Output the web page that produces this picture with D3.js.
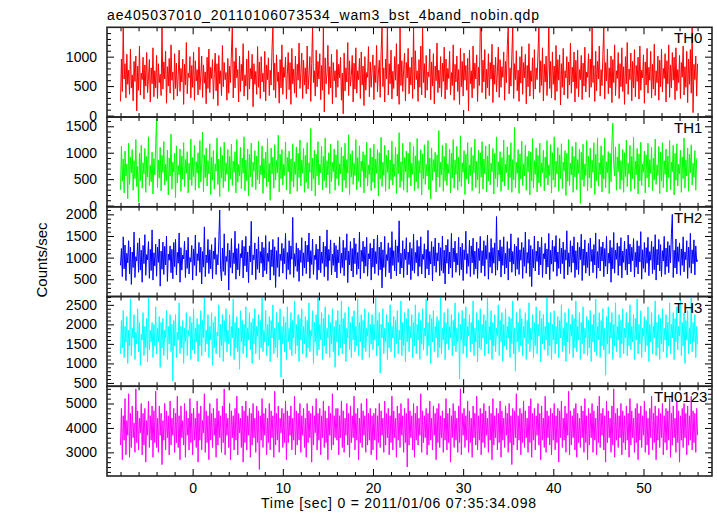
<!DOCTYPE html>
<html><head><meta charset="utf-8">
<script src="https://cdn.jsdelivr.net/npm/d3@7"></script>
<style>
body{margin:0;background:#fff;}
text{font-family:"Liberation Sans",Arial,Helvetica,sans-serif;fill:#000;}
</style>
</head><body>
<svg id="chart" width="717" height="516"></svg>
<script>
const titleText = "ae405037010_20110106073534_wam3_bst_4band_nobin.qdp";
const xLabelText = "Time [sec] 0 = 2011/01/06 07:35:34.098";
const yLabelText = "Counts/sec";
const bandNames = ["TH0", "TH1", "TH2", "TH3", "TH0123"];
const bandColors = ["#ff0000", "#00ff00", "#0000ff", "#00ffff", "#ff00ff"];
const timeStart = -8, timeEnd = 56;
const xTickValues = [0, 10, 20, 30, 40, 50];
const xDomain = [-9.5, 57.6];
const yDomains = [[-25, 1498], [-23, 1675], [100, 2175], [415, 2713], [2033, 5706]];
const yMajorStep = [500, 500, 500, 500, 1000];
const yMinorStep = [100, 100, 100, 100, 200];

const th0 = [
240,960,410,1500,620,880,300,1040,530,770,360,1130,470,690,250,920,580,1010,80,840,430,1180,350,720,610,990,280,860,500,1070,390,640,950,230,810,540,1150,320,760,470,
1020,290,880,560,700,340,1500,450,910,620,1090,210,830,500,970,380,1200,600,740,270,1050,460,890,330,680,1110,410,800,570,960,190,870,520,1240,370,720,640,1000,300,850,
480,1080,260,930,590,780,350,1160,440,670,1010,310,860,550,740,200,990,460,1130,390,820,630,950,280,710,1060,420,880,170,1020,540,760,340,1190,490,900,610,730,260,970,
380,840,560,1080,1500,300,920,470,1150,640,780,230,1010,410,870,590,1220,330,690,500,960,270,1100,450,800,620,1040,150,880,530,750,360,1170,480,910,290,1000,570,720,400,
1090,250,860,610,980,340,770,520,1130,1500,430,890,300,1030,580,740,210,950,470,1200,360,820,650,990,280,700,1070,440,900,190,1140,540,790,380,1010,310,870,600,1230,460,
730,1060,290,940,520,810,370,1180,450,690,1000,240,880,1500,560,760,330,1110,490,920,620,1050,270,850,430,1500,60,980,540,710,1190,360,830,470,1040,200,900,590,760,310,
1120,480,870,640,990,260,720,30,1060,420,810,570,1240,340,930,500,680,1020,230,890,450,1150,380,760,610,970,290,1080,520,840,170,1000,430,730,650,1170,320,910,480,790,
1030,270,850,560,1190,400,720,940,310,1070,1500,490,810,230,960,620,1500,350,880,540,1110,280,750,460,1000,600,1220,330,870,190,1500,510,930,410,780,1060,250,900,640,1140,
370,820,520,990,290,1500,450,1100,610,760,240,950,480,1180,350,1500,560,880,300,1020,430,740,660,1130,270,910,500,1050,200,840,590,1230,390,770,470,1000,320,890,580,1160,
280,960,440,800,630,1090,350,730,510,1200,260,870,570,1010,410,780,190,1140,490,920,330,1060,600,850,430,970,80,1110,540,760,300,1180,460,890,620,1030,240,820,510,1500,
1500,390,940,570,1120,280,790,470,1050,340,900,620,1210,220,860,530,990,400,740,1160,310,950,480,830,650,1080,260,920,560,1190,1500,370,810,500,1030,1500,290,880,610,1100,
420,770,240,1000,550,1170,360,900,640,1040,200,850,490,1220,330,760,580,980,280,1120,450,810,610,1060,1500,390,930,510,1150,250,870,570,1010,340,790,1500,460,920,300,1080,
530,840,260,1190,410,950,600,1030,180,880,480,1140,350,760,640,1000,290,910,520,1230,380,820,570,1080,230,940,460,1110,320,780,610,1020,270,890,500,1160,400,740,650,1050,
310,960,480,1500,560,850,240,1090,420,920,620,1180,330,780,510,1040,1500,280,900,590,1130,370,810,470,1010,220,950,560,1200,340,760,630,1070,290,880,490,1150,410,830,190,
1000,540,1240,360,790,610,1060,250,920,470,1120,320,850,580,990,280,1180,430,770,640,1030,210,910,520,1140,380,820,600,1090,300,870,450,1210,340,760,560,1010,260,940,490,
1130,400,800,630,1050,230,930,540,1200,310,860,470,1070,600,990,270,1150,420,780,560,1020,290,900,650,1180,350,830,480,1090,220,960,530,1120,380,1500,50,870,610,1010,330,
880];

const th1 = [
300,1120,460,880,240,1030,560,790,130,1180,400,920,620,1060,290,850,510,1250,360,740,70,990,470,1140,330,810,600,1080,250,930,540,1300,380,760,450,1010,220,890,580,1170,
1640,340,860,520,1100,280,950,630,1210,390,780,470,1050,200,900,560,1350,310,820,640,990,150,1130,430,760,580,1070,270,940,500,1190,360,870,610,1020,240,800,490,1260,380,
910,550,1140,290,830,620,1000,330,1230,450,770,1390,260,960,530,1090,370,850,600,1170,210,920,480,1040,310,790,650,1280,400,880,170,1110,520,950,340,1200,460,810,590,1060,
270,930,500,1160,380,840,630,1020,240,1250,440,780,560,1100,320,900,610,1300,280,860,470,1070,190,970,540,1180,350,820,650,1040,300,940,490,1220,410,760,580,1130,230,890,
520,1010,360,1270,450,800,100,1090,600,920,330,1150,480,850,620,1330,260,970,510,1060,390,780,570,1200,300,910,640,1030,220,880,460,1170,350,830,590,1110,270,990,530,1240,
370,860,610,1080,250,950,440,1190,320,810,630,1460,280,900,500,1050,180,970,560,1210,390,780,620,1120,300,930,470,1280,340,850,580,1000,230,1160,450,820,640,1070,290,960,
510,1230,380,790,600,1100,260,940,480,1180,330,870,620,1340,210,980,540,1040,400,800,570,1250,300,910,460,1130,350,840,650,1020,240,960,520,1200,370,770,590,1090,280,920,
440,1160,330,880,610,1060,180,1000,500,1290,360,820,570,1140,270,950,630,1050,310,860,480,1220,390,790,550,1100,230,970,600,1380,340,830,460,1180,290,910,640,1030,250,990,
530,1200,370,800,590,1120,280,940,450,1270,320,850,620,1060,200,980,510,1150,400,780,560,1230,300,900,130,1090,480,870,640,1010,260,960,540,1420,350,820,580,1140,270,930,
470,1180,380,790,610,1070,240,990,520,1250,330,860,590,1120,290,920,450,1320,360,810,630,1040,210,970,500,1190,410,770,570,1100,280,950,620,1260,340,840,490,1050,230,1000,
540,1210,310,880,600,1130,260,940,470,1160,390,800,640,1080,220,990,510,1300,350,830,580,1020,270,910,450,1240,370,780,620,1110,300,960,530,1190,250,870,490,1480,340,820,
610,1060,230,980,500,1220,380,790,560,1140,290,930,640,1030,200,1010,470,1270,330,850,590,1090,260,950,430,1180,360,810,620,1050,280,920,520,1230,390,770,570,1150,240,1000,
480,1300,350,840,600,1100,270,960,510,1170,320,820,650,1040,190,990,460,1250,380,800,580,1120,250,930,540,1200,300,870,610,1070,40,1010,490,1160,360,790,570,1230,280,940,
520,1090,330,860,630,1190,210,970,470,1280,370,810,590,1130,260,950,500,1280,340,830,620,1020,230,990,450,1210,1560,780,560,1110,290,920,640,1170,310,850,480,1060,250,1000,
550,1240,360,800,600,1140,270,930,510,1290,320,840,580,1080,220,980,470,1200,380,790,630,1030,240,960,520,1180,350,870,610,1100,280,900,490,1260,400,770,570,1120,230,1010,
460,1190,340,850,590,1070,260,940,530,1230,300,820,640,1140,200,990,480,1170,370,780,600,1050,250,920,510,1280,330,860,560,1090,270,970,620,1150,390,800,540,1040,290,880,
900];

const th2 = [
820,1210,560,1480,740,1290,470,1100,880,1390,620,1240,380,1130,770,1590,540,1020,920,1340,660,1450,710,1170,430,1280,860,1530,590,1070,950,1370,520,1190,700,1640,480,1110,810,1310,
570,1240,890,1430,340,1150,730,1360,610,1260,830,1500,450,1080,940,1270,650,1190,510,1350,790,1420,600,1120,870,1570,430,1230,710,1060,970,1380,540,1170,750,1470,620,1000,900,1280,
480,1200,820,1520,580,1090,930,1350,660,1240,390,1140,780,1710,560,1060,880,1420,630,1180,740,1300,510,1150,960,1460,610,1070,830,1390,2100,720,460,1220,680,1550,590,1030,910,1330,
250,1170,770,1440,640,1110,860,1610,500,1210,720,1320,580,1090,990,1400,530,1260,810,1490,670,1130,420,1270,900,1840,600,1060,950,1340,490,1200,730,1480,650,1140,870,1360,550,1230,
700,1510,620,1100,910,1370,480,1180,790,1420,590,1250,310,1160,770,1470,560,1080,930,1330,640,1210,860,1560,500,1120,720,1390,610,1270,960,1930,540,1090,800,1340,680,1220,450,1170,
890,1460,580,1110,760,1380,630,1290,900,1570,520,1160,840,1430,610,1050,950,1310,490,1200,710,1500,650,1130,870,1360,560,1260,790,1640,470,1190,930,1410,600,1080,820,1340,670,1280,
530,1180,880,1480,640,1100,770,1400,580,1230,940,1550,420,1150,830,1370,690,1210,550,1450,860,1320,610,1120,740,1590,510,1170,910,1380,640,1250,800,1470,570,1090,970,1330,480,1220,
780,1430,630,1140,860,1520,590,1240,720,1360,300,1180,770,1490,560,1070,930,1340,650,1230,510,1600,820,1160,690,1410,580,1270,890,1850,620,1100,760,1390,540,1200,950,1460,600,1130,
840,1350,490,1210,700,1540,640,1120,880,1400,570,1260,790,1480,620,1080,960,1320,530,1190,740,1630,600,1140,850,1370,460,1250,810,1450,660,1110,920,1340,580,1230,700,1500,640,1170,
390,1290,870,1420,620,1130,760,1560,540,1220,900,1380,660,1100,830,1470,590,1240,720,1330,470,1180,950,1610,630,1090,800,1400,560,1270,880,1450,610,1150,740,1360,520,1210,930,1490,
650,1160,810,1390,570,1280,960,1520,500,1120,780,1440,640,1230,870,1340,590,1950,710,1170,920,1410,550,1250,820,1480,620,1100,760,1370,480,1210,900,1550,660,1140,850,1310,580,1260,
730,1460,610,1180,940,1350,520,1230,800,1590,640,1120,870,1420,560,1280,330,1190,760,1500,690,1150,910,1380,600,1240,830,1470,540,1090,970,1330,620,1200,780,1560,490,1170,850,1400,
680,1260,900,1510,570,1130,750,1440,630,1220,860,1360,510,1180,940,1620,600,1110,790,1390,660,1270,880,1480,540,1160,720,1350,610,1240,950,1540,470,1200,820,1410,640,1130,770,1330,
580,1450,910,1190,650,1300,830,1570,520,1140,760,1420,690,1250,920,1360,560,1210,800,1490,620,1100,870,1400,430,1230,740,1580,640,1170,960,1340,590,1260,810,1460,530,1150,890,1380,
710,1200,600,1520,850,1310,670,1240,930,1440,550,1120,780,1390,620,1270,900,1600,500,1180,750,1350,660,1230,870,1470,580,1140,940,1380,630,1250,720,1530,480,1190,830,1420,690,1300,
560,1160,920,1490,610,1220,790,1370,650,1280,880,1550,2000,540,1170,760,1430,620,1250,910,1340,590,1200,820,1480,670,1130,950,1390,520,1240,770,1560,640,1180,860,1410,600,1270,900,
950];

const th3 = [
1250,2100,1400,2350,1150,1950,1550,2200,1000,1850,1450,2650,1200,1900,1650,2250,1100,1800,1500,2400,1300,2050,950,1750,1600,2300,1200,1950,1400,2150,1050,2700,1350,1850,1550,2050,1150,2000,1450,2450,
1250,1900,1550,2200,900,2050,1400,2150,1200,1850,1650,2350,1100,1950,1500,2250,1300,2000,550,2100,1450,2250,1150,1800,1600,2550,1250,1950,1400,2100,1000,1900,1550,2300,1200,1850,1700,2200,1100,2050,
1350,2400,1250,1900,1550,2150,1050,2000,1450,2350,1200,2100,1650,2700,1300,1850,1500,2250,1150,1950,1600,2300,950,2050,1400,2200,1250,1800,1700,2500,1150,2000,1450,2250,1050,2100,1550,2400,1300,1850,
1500,2250,1200,1950,1650,2650,1100,2050,1400,2200,1300,1900,850,2350,1550,2100,1250,2000,1450,2450,1150,1900,1600,2300,1350,2050,1000,2150,1500,2400,1250,1950,1700,2250,1100,2100,1400,2700,1300,1850,
1550,2350,1200,2000,1450,2200,1050,2100,1650,2500,1250,1900,1400,2300,1150,2050,1600,2400,650,1950,1500,2200,1300,2050,1100,2450,1550,1900,1350,2300,1200,2100,1650,2600,1250,2000,1450,2250,1050,2150,
1600,2400,1250,1950,1500,2200,1150,2100,1400,2550,1300,1850,1700,2350,1000,2050,1550,2250,1200,2700,1350,2000,1600,2300,1100,2150,1450,2450,1250,1900,1650,2250,1150,2050,1500,2400,1300,1950,900,2100,
1550,2350,1200,2000,1400,2600,1250,2150,1500,2300,1050,1900,1650,2450,1350,2050,1150,2200,1600,2350,1300,1950,1450,2650,1200,2050,1550,2250,1100,2100,1400,2400,1300,1900,1700,2300,1150,2000,1500,2250,
1350,2000,1600,2700,1200,2100,1450,2300,750,2000,1650,2400,1250,1900,1550,2250,1100,2050,1400,2500,1300,1950,1650,2200,1150,2100,1500,2350,1250,1850,1600,2600,1200,2050,1450,2300,1050,2150,1550,2400,
1300,1950,1650,2250,1150,2050,1450,2500,1250,2000,1600,2300,1100,2100,1500,2400,1350,1900,1700,2650,1200,2050,1450,2250,1000,2150,1550,2350,1300,1950,1650,2200,1150,2100,1400,2700,1250,1900,1600,2300,
1100,2050,1500,2400,1350,1950,1650,2250,1200,2100,1450,2550,1300,1900,1550,2300,600,2000,1600,2350,1250,2150,1450,2450,1150,1950,1700,2250,1300,2050,1500,2600,1200,1900,1550,2300,1050,2100,1400,2400,
1350,2000,1650,2250,1200,2100,1500,2700,1250,1950,1600,2350,1100,2050,1450,2250,1300,1900,1700,2500,1200,2100,1550,2300,1050,2000,1450,2400,1350,1950,1650,2200,1150,2150,1500,2600,1250,1900,800,2300,
1550,2050,1300,2400,1450,2150,1200,1950,1650,2300,1100,2100,1500,2550,1300,1900,1600,2250,1150,2050,1450,2450,1250,2000,1700,2350,1050,2150,1500,2250,1350,1950,1600,2700,1200,2050,1450,2300,1100,2000,
1600,2350,1250,1950,1500,2200,1150,2100,1650,2500,1300,1900,1450,2300,1050,2050,1550,2400,1250,2000,1700,2250,1150,2150,1400,2600,1300,1950,1600,2300,1100,2050,1500,2450,1250,1900,1650,2200,1200,2100,
1400,2350,1050,2000,1550,2250,1300,2650,1200,1950,1600,2300,1150,2100,1450,2400,1350,1900,700,2200,1500,2450,1250,2050,1650,2300,1100,2000,1450,2550,1300,1950,1600,2250,1150,2100,1500,2400,1250,1900,
1650,2300,1200,2050,1450,2500,1350,1950,1550,2250,1100,2150,1600,2650,1250,2000,1500,2350,1150,1900,1700,2200,1300,2100,1450,2450,1050,2000,1550,2300,1250,1950,1650,2600,1200,2050,1400,2250,1100,2150,
1500,2400,1300,1900,1600,2250,1150,2050,1450,2550,1250,2000,1650,2300,1100,2150,1550,2450,1350,1950,1700,2650,1200,2050,1450,2300,1000,2100,1600,2350,1250,1900,1500,2700,1300,2050,1550,2250,1150,1950,
1500];

const th0123 = [
3300,4800,2700,4500,3500,5200,2900,4300,3700,5400,2800,4600,3200,4900,3600,4200,3000,5600,3400,4700,3100,4400,3800,5000,2900,4600,3300,4800,2600,4300,3700,5100,3200,4500,3500,4900,2800,4700,3400,5500,
3200,4400,3000,4900,3700,4600,2500,4300,3500,5000,3100,4700,3600,4500,2900,5100,3300,4400,3700,4800,3000,4600,3400,5300,3200,4500,2700,4900,3600,4300,3300,5000,2800,4700,3700,4400,3100,5200,3400,4600,
2900,4800,3500,4400,3200,5100,2600,4600,3500,4900,3100,4300,3800,5400,3000,4700,3400,4500,2700,5000,3500,4600,3200,4800,3700,4400,2800,5200,3300,4700,3600,4500,3000,4900,3400,5600,2900,4600,3700,4400,
3200,5000,2700,4700,3600,4500,3100,4800,3500,5300,2900,4600,3800,4400,3200,4900,2600,4700,3400,5100,3100,4500,3700,4800,2800,4600,3300,5000,3600,4400,3000,4900,3400,4700,2300,4500,3500,5200,3200,4600,
3700,4800,2900,4400,3400,5000,3100,4700,3600,4500,2800,5500,3300,4600,3500,4900,3000,4400,3800,4800,3200,4600,3400,5100,2700,4700,3400,4500,3700,4900,3100,4400,3500,5300,2900,4700,3300,4600,3500,5000,
3000,4500,3700,4800,3200,4400,2800,5000,3400,4700,3600,4600,2600,4900,3300,4500,3800,5200,3100,4600,3500,4800,2900,4500,3600,5100,3200,4700,3400,4400,2700,4900,3700,4600,3100,5400,3300,4500,3600,4800,
3500,4800,2900,4500,3600,5100,3200,4700,3000,4400,3700,5000,3300,4600,2800,4900,3400,4500,3600,5300,3100,4600,3500,4800,2700,4400,3400,5000,3200,4700,3700,4500,3000,5200,3300,4600,3500,4800,2900,4500,
3100,4600,3500,4800,2700,4500,3400,5000,3200,4700,3700,4400,3000,5100,3300,4600,3600,4800,2900,4500,3400,5300,3100,4700,3600,4400,2800,4900,3500,4600,3200,5000,3700,4500,3000,4800,3400,4600,2400,5200,
3300,4700,3600,4500,3100,5000,2800,4600,3500,4900,3300,4400,3700,5400,3000,4700,3400,4500,3600,4800,2900,4600,3300,5100,3500,4400,3100,4900,3700,4600,2700,4800,3400,5000,3200,4500,3600,4700,3000,4400,
3500,5200,3100,4600,3400,4800,2600,4500,3600,5000,3200,4700,3500,4400,3000,4900,3400,5600,2900,4600,3700,4800,3200,4500,3500,5100,3000,4700,3400,4400,2800,4900,3600,4600,3300,5300,3100,4500,3500,4800,
2900,4600,3400,5000,3200,4700,3700,4400,3000,4900,3500,4600,2700,5200,3300,4500,3600,4800,3100,4600,3400,5100,2800,4700,3500,4400,3200,4900,3700,4600,3000,5000,3400,4500,2500,4800,3300,4700,3600,5400,
3100,4500,3500,4800,2900,4600,3400,5100,3200,4700,3600,4400,3000,4900,3400,5200,2800,4600,3500,4800,3100,4500,3700,5000,3300,4600,2700,4900,3500,4400,3200,5300,3000,4700,3600,4500,3300,4800,2900,4600,
3500,5000,3100,4500,3400,4800,2600,4700,3600,5100,3200,4400,3500,4900,3000,4600,3700,5500,2900,4700,3300,4500,3600,4800,3100,5000,2800,4600,3400,4400,3200,4900,3600,4700,3000,5200,3400,4500,2700,4800,
3300,4600,3600,5000,3000,4700,3500,4400,2900,4900,3400,5300,3200,4600,3700,4800,3100,4500,2600,5100,3400,4700,3600,4400,3000,4900,3300,5600,2800,4600,3500,4800,3200,4500,3600,5000,2900,4700,3400,4500,
3100,4900,3500,4600,2800,5200,3300,4700,3600,4400,3000,4800,3400,5000,2700,4600,3500,4900,3200,4500,3700,5100,3000,4700,3300,4400,2900,4800,3600,5300,3100,4600,3400,4900,2700,4500,3500,4800,3200,4600,
3600,5000,2900,4500,3400,4800,3100,4700,3500,5200,2800,4600,3300,4900,3600,4400,3000,5100,3400,4700,2600,4500,3500,4800,3200,5000,3600,4600,2900,4900,3300,4500,3500,5300,3100,4700,3400,4600,3000,4800,
3700];

const seriesList = [th0, th1, th2, th3, th0123];

// ---- layout ----
const svg = d3.select("#chart");
const plotLeft = 107, plotRight = 712;
const plotTop = 27.3, plotBottom = 476;
const nPanels = seriesList.length;
const panelH = (plotBottom - plotTop) / nPanels;
const majorLen = 7, minorLen = 4;

svg.append("rect").attr("width", 717).attr("height", 516).attr("fill", "#fff");

const x = d3.scaleLinear().domain(xDomain).range([plotLeft, plotRight]);
const xMinorValues = d3.range(-8, 57, 2).filter(v => xTickValues.indexOf(v) < 0);

function stepValues(domain, step) {
  const lo = Math.ceil(domain[0] / step) * step;
  return d3.range(lo, domain[1] + 1e-9, step);
}

seriesList.forEach((vals, p) => {
  const top = plotTop + p * panelH, bottom = top + panelH;
  const y = d3.scaleLinear().domain(yDomains[p]).range([bottom, top]);
  const g = svg.append("g");
  const clipId = "clip" + p;
  svg.append("clipPath").attr("id", clipId).append("rect")
    .attr("x", plotLeft).attr("y", top).attr("width", plotRight - plotLeft).attr("height", panelH);

  const n = vals.length;
  const tAt = i => timeStart + i * (timeEnd - timeStart) / (n - 1);
  const line = d3.line().x((d, i) => x(tAt(i))).y(d => y(d));
  g.append("path").datum(vals)
    .attr("clip-path", "url(#" + clipId + ")")
    .attr("d", line)
    .attr("fill", "none")
    .attr("stroke", bandColors[p])
    .attr("stroke-width", 1)
    .attr("stroke-linejoin", "bevel");

  const majors = stepValues(yDomains[p], yMajorStep[p]);
  const minors = stepValues(yDomains[p], yMinorStep[p]).filter(v => v % yMajorStep[p] !== 0);

  const axL = g.append("g").attr("transform", `translate(${plotLeft},0)`)
    .call(d3.axisLeft(y).tickValues(majors).tickSize(-majorLen).tickPadding(10).tickFormat(d3.format("d")));
  const axLm = g.append("g").attr("transform", `translate(${plotLeft},0)`)
    .call(d3.axisLeft(y).tickValues(minors).tickSize(-minorLen).tickFormat(""));
  const axR = g.append("g").attr("transform", `translate(${plotRight},0)`)
    .call(d3.axisRight(y).tickValues(majors).tickSize(-majorLen).tickFormat(""));
  const axRm = g.append("g").attr("transform", `translate(${plotRight},0)`)
    .call(d3.axisRight(y).tickValues(minors).tickSize(-minorLen).tickFormat(""));

  const isLast = p === nPanels - 1;
  const axB = g.append("g").attr("transform", `translate(0,${bottom})`)
    .call(d3.axisBottom(x).tickValues(xTickValues).tickSize(-majorLen).tickPadding(7)
      .tickFormat(isLast ? d3.format("d") : ""));
  const axBm = g.append("g").attr("transform", `translate(0,${bottom})`)
    .call(d3.axisBottom(x).tickValues(xMinorValues).tickSize(-minorLen).tickFormat(""));
  const axT = g.append("g").attr("transform", `translate(0,${top})`)
    .call(d3.axisTop(x).tickValues(xTickValues).tickSize(-majorLen).tickFormat(""));
  const axTm = g.append("g").attr("transform", `translate(0,${top})`)
    .call(d3.axisTop(x).tickValues(xMinorValues).tickSize(-minorLen).tickFormat(""));

  [axL, axLm, axR, axRm, axB, axBm, axT, axTm].forEach(a => {
    a.select(".domain").remove();
    a.selectAll("line").attr("stroke", "#000").attr("stroke-width", 1);
    a.selectAll("text").attr("font-size", 14).attr("fill", "#000")
      .attr("font-family", '"Liberation Sans",Arial,sans-serif');
  });

  g.append("rect").attr("x", plotLeft).attr("y", top)
    .attr("width", plotRight - plotLeft).attr("height", panelH)
    .attr("fill", "none").attr("stroke", "#222").attr("stroke-width", 1.6);

  g.append("text")
    .attr("x", bandNames[p].length > 3 ? 654 : 674)
    .attr("y", top + 16)
    .attr("font-size", 15)
    .text(bandNames[p]);
});

svg.append("text").attr("x", 107).attr("y", 19.5)
  .attr("font-size", 14).attr("textLength", 432).attr("lengthAdjust", "spacing")
  .text(titleText);

svg.append("text").attr("x", 261).attr("y", 508)
  .attr("font-size", 14).attr("textLength", 275).attr("lengthAdjust", "spacing")
  .text(xLabelText);

svg.append("text").attr("transform", "translate(47,260) rotate(-90)")
  .attr("text-anchor", "middle").attr("font-size", 15)
  .text(yLabelText);
</script>
</body></html>
